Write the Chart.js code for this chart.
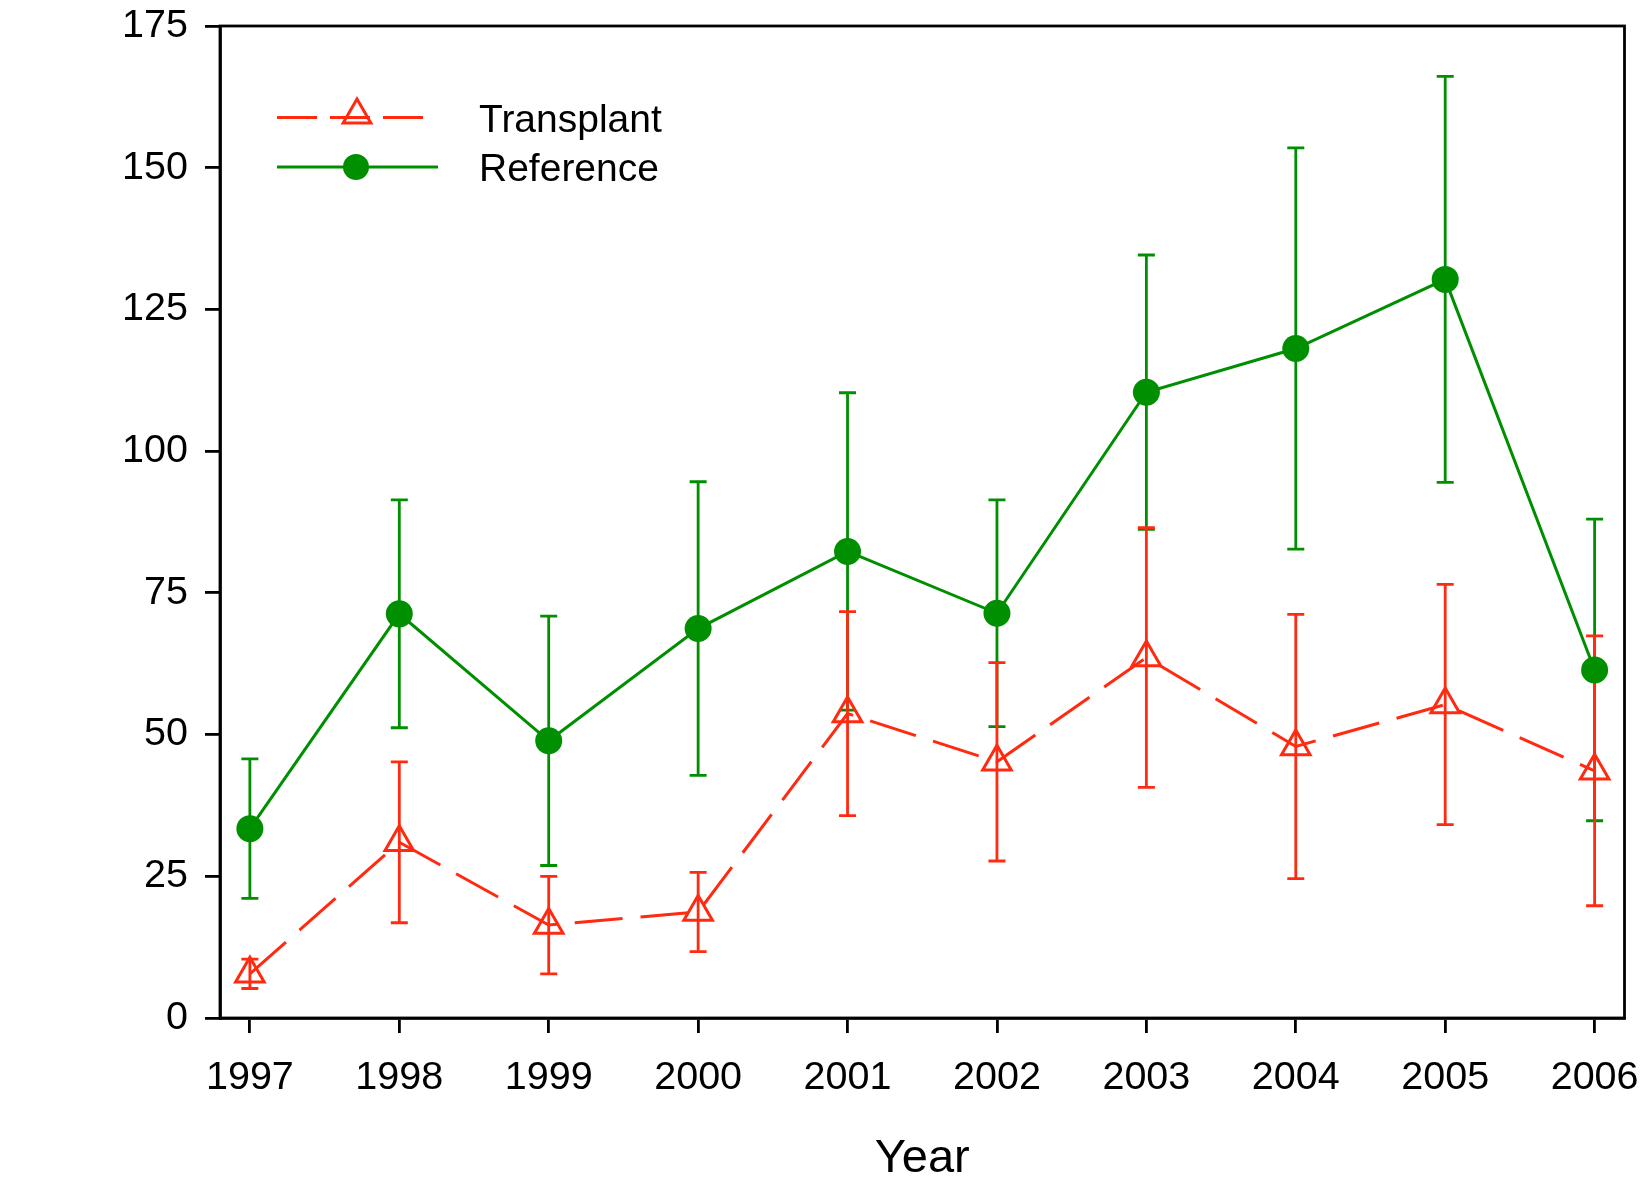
<!DOCTYPE html>
<html>
<head>
<meta charset="utf-8">
<script src="https://cdn.jsdelivr.net/npm/chart.js@4.4.1/dist/chart.umd.min.js"></script>
<style>
  html, body { margin: 0; padding: 0; background: #ffffff; }
  #wrap { width: 1644px; height: 1181px; position: relative; }
</style>
</head>
<body>
<div id="wrap"><canvas id="c" width="1644" height="1181"></canvas></div>
<script>
// ---- data ----
const years = [1997, 1998, 1999, 2000, 2001, 2002, 2003, 2004, 2005, 2006];
const transplantMean = [7.8, 31.0, 16.4, 18.7, 53.7, 45.2, 63.6, 47.9, 55.3, 43.6];
const transplantErr  = [2.6, 14.2, 8.6, 7.0, 18.0, 17.5, 22.9, 23.3, 21.2, 23.8];
const referenceMean  = [33.4, 71.3, 48.9, 68.7, 82.3, 71.4, 110.4, 118.1, 130.3, 61.4];
const referenceErr   = [12.3, 20.1, 22.0, 25.9, 28.0, 20.0, 24.2, 35.4, 35.8, 26.6];
const yTicks = [0, 25, 50, 75, 100, 125, 150, 175];
const seriesNames = ['Transplant', 'Reference'];
const xTitle = 'Year';

const RED = '#ff2a10';
const GREEN = '#008f00';
const FONT = '"Liberation Sans", Arial, Helvetica, sans-serif';

const errorBars = {
  id: 'errorBars',
  beforeDatasetsDraw(chart) {
    const ctx = chart.ctx;
    const xs = chart.scales.x, ys = chart.scales.y;
    const sets = [
      {mean: referenceMean, err: referenceErr, color: GREEN},
      {mean: transplantMean, err: transplantErr, color: RED}
    ];
    ctx.save();
    sets.forEach(s => {
      ctx.strokeStyle = s.color;
      ctx.lineWidth = 2.8;
      s.mean.forEach((m, i) => {
        const x = xs.getPixelForValue(years[i]);
        const yt = ys.getPixelForValue(m + s.err[i]);
        const yb = ys.getPixelForValue(m - s.err[i]);
        ctx.beginPath();
        ctx.moveTo(x, yt); ctx.lineTo(x, yb);
        ctx.moveTo(x - 8.5, yt); ctx.lineTo(x + 8.5, yt);
        ctx.moveTo(x - 8.5, yb); ctx.lineTo(x + 8.5, yb);
        ctx.stroke();
      });
    });
    ctx.restore();
  }
};

const frameAndLegend = {
  id: 'frameAndLegend',
  afterDraw(chart) {
    const ctx = chart.ctx;
    const a = chart.chartArea;
    ctx.save();
    ctx.strokeStyle = '#000';
    ctx.lineWidth = 2.8;
    ctx.strokeRect(a.left, a.top, a.right - a.left, a.bottom - a.top);

    // legend: Transplant
    ctx.strokeStyle = RED;
    ctx.lineWidth = 3;
    ctx.setLineDash([40, 13]);
    ctx.beginPath(); ctx.moveTo(277, 117.5); ctx.lineTo(423, 117.5); ctx.stroke();
    ctx.setLineDash([]);
    const r = 16, cx = 357, cy = 115;
    ctx.beginPath();
    for (let k = 0; k < 3; k++) {
      const ang = k * 2 * Math.PI / 3;
      const px = cx + Math.sin(ang) * r, py = cy - Math.cos(ang) * r;
      if (k === 0) ctx.moveTo(px, py); else ctx.lineTo(px, py);
    }
    ctx.closePath(); ctx.stroke();
    // legend: Reference
    ctx.strokeStyle = GREEN;
    ctx.beginPath(); ctx.moveTo(277, 167); ctx.lineTo(438, 167); ctx.stroke();
    ctx.fillStyle = GREEN;
    ctx.beginPath(); ctx.arc(356, 167, 13, 0, Math.PI * 2); ctx.fill();

    ctx.fillStyle = '#000';
    ctx.font = '39px ' + FONT;
    ctx.textBaseline = 'alphabetic';
    ctx.textAlign = 'left';
    ctx.fillText(seriesNames[0], 479, 131.5);
    ctx.fillText(seriesNames[1], 479, 181);
    ctx.restore();
  }
};

new Chart(document.getElementById('c'), {
  type: 'line',
  data: {
    datasets: [
      {
        label: seriesNames[1],
        data: years.map((y, i) => ({x: y, y: referenceMean[i]})),
        borderColor: GREEN,
        backgroundColor: GREEN,
        borderWidth: 3,
        pointStyle: 'circle',
        pointRadius: 13.5,
        pointBorderWidth: 0,
        pointBackgroundColor: GREEN,
        tension: 0,
        fill: false
      },
      {
        label: seriesNames[0],
        data: years.map((y, i) => ({x: y, y: transplantMean[i]})),
        borderColor: RED,
        backgroundColor: 'rgba(0,0,0,0)',
        borderWidth: 3,
        borderDash: [48, 18],
        pointStyle: 'triangle',
        pointRadius: 16.5,
        pointBorderWidth: 3,
        pointBorderColor: RED,
        pointBackgroundColor: 'rgba(0,0,0,0)',
        tension: 0,
        fill: false
      }
    ]
  },
  options: {
    responsive: false,
    animation: false,
    devicePixelRatio: 1,
    layout: { padding: { top: 26, right: 18, bottom: 0, left: 0 } },
    plugins: { legend: { display: false }, tooltip: { enabled: false } },
    scales: {
      x: {
        type: 'linear',
        min: 1996.8,
        max: 2006.2,
        afterBuildTicks: s => { s.ticks = years.map(v => ({value: v})); },
        afterFit: s => { s.height = 163; s.paddingLeft = 0; s.paddingRight = 0; },
        grid: { display: true, drawOnChartArea: false, drawTicks: true, tickLength: 15, color: '#000', lineWidth: 2.8 },
        border: { display: true, color: '#000', width: 2.8 },
        ticks: { color: '#000', font: { size: 39.5, family: FONT }, padding: 21, maxRotation: 0, autoSkip: false, callback: v => String(v) },
        title: { display: true, text: xTitle, color: '#000', font: { size: 47, family: FONT }, padding: { top: 20, bottom: -6 } }
      },
      y: {
        type: 'linear',
        min: 0,
        max: 175,
        afterBuildTicks: s => { s.ticks = yTicks.map(v => ({value: v})); },
        afterFit: s => { s.width = 220; s.paddingTop = 0; s.paddingBottom = 0; },
        grid: { display: true, drawOnChartArea: false, drawTicks: true, tickLength: 15, color: '#000', lineWidth: 2.8 },
        border: { display: true, color: '#000', width: 2.8 },
        ticks: { color: '#000', font: { size: 39.5, family: FONT }, padding: 17, callback: v => String(v) }
      }
    }
  },
  plugins: [errorBars, frameAndLegend]
});
</script>
</body>
</html>
